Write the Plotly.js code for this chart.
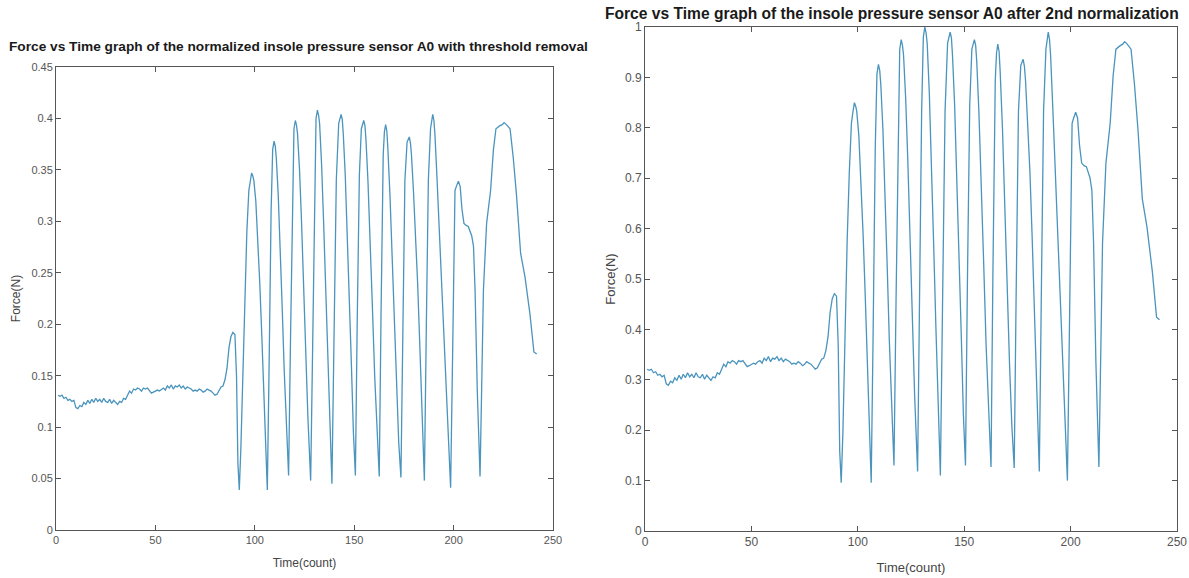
<!DOCTYPE html>
<html>
<head>
<meta charset="utf-8">
<script src="https://cdn.plot.ly/plotly-3.0.1.min.js"></script>
<style>
html,body{margin:0;padding:0;background:#fff;}
#chart{width:1189px;height:578px;}
</style>
</head>
<body>
<div id="chart"></div>
<script>
// Time (count) samples
const timeCount = [
1,2,3,4,5,6,7,8,9,10,11,12,13,14,15,16,17,18,19,20,
21,22,23,24,25,26,27,28,29,30,31,32,33,34,35,36,37,38,39,40,
41,42,43,44,45,46,47,48,49,50,51,52,53,54,55,56,57,58,59,60,
61,62,63,64,65,66,67,68,69,70,71,72,73,74,75,76,77,78,79,80,
81,82,83,84,85,86,87,88,89,90,
90.8,91.5,92.2,93,94,95,96,97,97.7,98.4,99.0,99.5,100.5,101.5,102.5,103.5,104.5,105.5,106.3,
107.2,108.2,109.0,109.7,110.3,110.8,111.8,112.8,113.8,114.8,115.9,117,
118,119,119.7,120.4,121.0,121.5,122.5,123.5,124.5,125.5,126.7,128.1,
129,130,130.8,131.5,132.1,132.6,133.6,134.6,135.6,136.7,137.8,138.8,
139.8,141,142.2,142.8,143.4,144.0,144.5,145.5,146.5,147.5,148.6,149.6,150.6,
151.5,152.6,153.6,154.2,154.8,155.4,155.9,156.9,158,159.1,160.3,161.5,162.6,
163.5,164.6,165.2,165.8,166.4,166.9,168,169.1,170.2,171.3,172.4,173.5,
174.4,175.5,176.6,177.7,178.3,178.8,179.8,180.9,181.9,182.9,184.1,185.3,
186.3,187.3,188.4,189.0,189.5,190.1,190.6,191.7,192.8,194,195.2,196.4,197.5,198.5,
199.5,200.7,201.4,202.4,203.3,204.2,205.2,206.3,207.4,208.3,209.1,210,210.8,211.9,213.3,
214.1,215,216.6,218.6,220,221.3,223.3,224.5,225.4,226.6,228.4,230,231.7,233.7,235.9,238.4,240.4,241.8
];

// Left chart: normalized force with threshold removal (N)
const forceThreshold = [
0.131,0.130,0.131,0.128,0.129,0.126,0.127,0.125,0.126,0.119,0.118,0.121,0.120,0.124,0.122,0.126,0.123,0.127,0.124,0.128,
0.125,0.127,0.124,0.128,0.125,0.124,0.127,0.123,0.126,0.124,0.122,0.125,0.124,0.128,0.127,0.131,0.135,0.133,0.137,0.136,
0.138,0.137,0.135,0.138,0.137,0.138,0.135,0.133,0.134,0.135,0.136,0.135,0.137,0.138,0.136,0.140,0.138,0.141,0.137,0.140,
0.139,0.141,0.138,0.140,0.137,0.139,0.138,0.137,0.135,0.136,0.135,0.137,0.136,0.134,0.135,0.137,0.136,0.135,0.133,0.131,
0.132,0.136,0.139,0.140,0.146,0.157,0.177,0.188,0.192,0.190,
0.150,0.065,0.039,0.080,0.160,0.235,0.290,0.330,0.339,0.347,0.344,0.340,0.320,0.285,0.240,0.190,0.135,0.075,0.039,
0.160,0.310,0.370,0.378,0.373,0.362,0.325,0.275,0.215,0.155,0.095,0.053,
0.190,0.330,0.390,0.398,0.393,0.385,0.350,0.300,0.240,0.180,0.110,0.048,
0.170,0.340,0.400,0.408,0.403,0.395,0.355,0.300,0.235,0.165,0.095,0.045,
0.180,0.340,0.395,0.401,0.404,0.399,0.385,0.345,0.290,0.230,0.160,0.095,0.053,
0.200,0.345,0.390,0.395,0.398,0.393,0.380,0.340,0.285,0.220,0.150,0.090,0.052,
0.210,0.365,0.387,0.394,0.388,0.372,0.325,0.260,0.195,0.135,0.085,0.051,
0.190,0.340,0.377,0.382,0.376,0.365,0.330,0.290,0.240,0.185,0.115,0.048,
0.200,0.340,0.390,0.399,0.404,0.398,0.385,0.340,0.290,0.235,0.175,0.120,0.075,0.041,
0.170,0.330,0.334,0.339,0.334,0.312,0.298,0.296,0.295,0.291,0.286,0.276,0.233,0.136,0.052,
0.136,0.233,0.298,0.330,0.369,0.390,0.393,0.394,0.396,0.394,0.390,0.362,0.324,0.269,0.246,0.210,0.173,0.171
];

// Right chart: force after 2nd normalization
const forceNormalized = [
0.321,0.319,0.321,0.314,0.316,0.309,0.311,0.306,0.309,0.292,0.289,0.297,0.294,0.304,0.299,0.309,0.301,0.311,0.304,0.314,
0.306,0.311,0.304,0.314,0.306,0.304,0.311,0.301,0.309,0.304,0.299,0.306,0.304,0.314,0.311,0.321,0.331,0.326,0.336,0.333,
0.338,0.336,0.331,0.338,0.336,0.338,0.331,0.326,0.328,0.331,0.333,0.331,0.336,0.338,0.333,0.343,0.338,0.346,0.336,0.343,
0.341,0.346,0.338,0.343,0.336,0.341,0.338,0.336,0.331,0.333,0.331,0.336,0.333,0.328,0.331,0.336,0.333,0.331,0.326,0.321,
0.324,0.333,0.341,0.343,0.358,0.385,0.434,0.461,0.471,0.466,
0.368,0.159,0.096,0.196,0.392,0.576,0.711,0.809,0.831,0.850,0.843,0.833,0.784,0.699,0.588,0.466,0.331,0.184,0.096,
0.392,0.760,0.907,0.926,0.914,0.887,0.797,0.674,0.527,0.380,0.233,0.130,
0.466,0.809,0.956,0.975,0.963,0.944,0.858,0.735,0.588,0.441,0.270,0.118,
0.417,0.833,0.980,1.000,0.988,0.968,0.870,0.735,0.576,0.404,0.233,0.110,
0.441,0.833,0.968,0.983,0.990,0.978,0.944,0.846,0.711,0.564,0.392,0.233,0.130,
0.490,0.846,0.956,0.968,0.975,0.963,0.931,0.833,0.699,0.539,0.368,0.221,0.127,
0.515,0.895,0.949,0.966,0.951,0.912,0.797,0.637,0.478,0.331,0.208,0.125,
0.466,0.833,0.924,0.936,0.922,0.895,0.809,0.711,0.588,0.453,0.282,0.118,
0.490,0.833,0.956,0.978,0.990,0.975,0.944,0.833,0.711,0.576,0.429,0.294,0.184,0.100,
0.417,0.809,0.819,0.831,0.819,0.765,0.730,0.725,0.723,0.713,0.701,0.676,0.571,0.333,0.127,
0.333,0.571,0.730,0.809,0.904,0.956,0.963,0.966,0.971,0.966,0.956,0.887,0.794,0.659,0.603,0.515,0.424,0.419
];

const xTicks = [0, 50, 100, 150, 200, 250];
const leftTitle = "Force vs Time graph of the normalized insole pressure sensor A0 with threshold removal";
const rightTitle = "Force vs Time graph of the insole pressure sensor A0 after 2nd normalization";

const lineColor = '#4a94bd';
const axisColor = '#555555';
const fontFam = '"Liberation Sans", Arial, Helvetica, sans-serif';

const traces = [
  {x: timeCount, y: forceThreshold, type: 'scatter', mode: 'lines',
   line: {color: lineColor, width: 1.3}, xaxis: 'x', yaxis: 'y', showlegend: false},
  {x: timeCount, y: forceNormalized, type: 'scatter', mode: 'lines',
   line: {color: lineColor, width: 1.3}, xaxis: 'x2', yaxis: 'y2', showlegend: false}
];

function axisBase(extra) {
  return Object.assign({
    showline: true, linecolor: axisColor, linewidth: 1, mirror: 'ticks',
    ticks: 'inside', ticklen: 5, tickcolor: axisColor, tickwidth: 1,
    showgrid: false, zeroline: false, fixedrange: true,
    tickfont: {family: fontFam, size: 11, color: '#555555'}
  }, extra);
}

const layout = {
  width: 1189, height: 578,
  margin: {l: 0, r: 0, t: 0, b: 0},
  paper_bgcolor: '#ffffff', plot_bgcolor: '#ffffff',
  font: {family: fontFam, color: '#333333'},
  xaxis: axisBase({domain: [56/1189, 553/1189], range: [0, 250], tickvals: xTicks, anchor: 'y',
    title: {text: 'Time(count)', font: {family: fontFam, size: 12, color: '#444444'}, standoff: 13}}),
  yaxis: axisBase({domain: [48/578, 511/578], range: [0, 0.45], dtick: 0.05, tick0: 0, anchor: 'x',
    title: {text: 'Force(N)', font: {family: fontFam, size: 12, color: '#444444'}, standoff: 8}}),
  xaxis2: axisBase({domain: [645/1189, 1177/1189], range: [0, 250], tickvals: xTicks, anchor: 'y2',
    tickfont: {family: fontFam, size: 12, color: '#555555'},
    title: {text: 'Time(count)', font: {family: fontFam, size: 13, color: '#444444'}, standoff: 14}}),
  yaxis2: axisBase({domain: [47/578, 551/578], range: [0, 1], dtick: 0.1, tick0: 0, anchor: 'x2',
    tickfont: {family: fontFam, size: 12, color: '#555555'},
    title: {text: 'Force(N)', font: {family: fontFam, size: 13, color: '#444444'}, standoff: 6}}),
  annotations: [
    {text: '<b>' + leftTitle + '</b>', xref: 'paper', yref: 'paper', x: 299/1189, y: (578-46)/578,
     xanchor: 'center', yanchor: 'middle', showarrow: false,
     font: {family: fontFam, size: 13.7, color: '#1a1a1a'}},
    {text: '<b>' + rightTitle + '</b>', xref: 'paper', yref: 'paper', x: 892/1189, y: (578-13)/578,
     xanchor: 'center', yanchor: 'middle', showarrow: false,
     font: {family: fontFam, size: 15.6, color: '#1a1a1a'}}
  ]
};

Plotly.newPlot('chart', traces, layout, {displayModeBar: false, staticPlot: true});
</script>
</body>
</html>
